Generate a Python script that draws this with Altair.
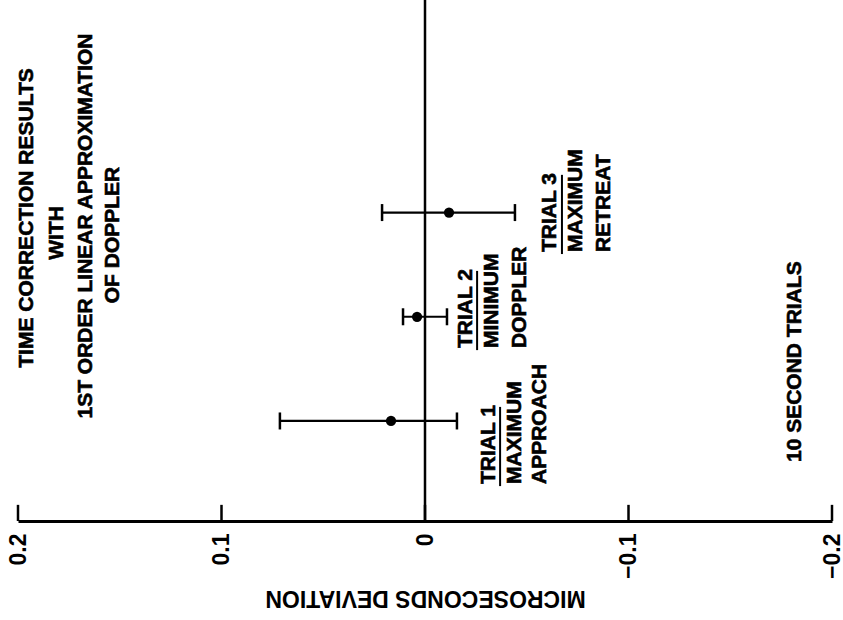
import altair as alt
import pandas as pd

# ---- data ----
trials = ["Trial 1", "Trial 2", "Trial 3"]
trial_pos = [0.96, 1.96, 2.96]
mean_dev = [0.0167, 0.0039, -0.0118]
upper_dev = [0.0713, 0.0108, 0.0211]
lower_dev = [-0.0157, -0.0108, -0.0442]
tick_values = [0.2, 0.1, 0.0, -0.1, -0.2]
zero_line = [0.0]

title_lines = ["TIME CORRECTION RESULTS", "WITH", "1ST ORDER LINEAR APPROXIMATION", "OF DOPPLER"]
title_x = [0.1956, 0.1808, 0.1666, 0.1533]
title_y = [2.908, 2.764, 2.831, 2.745]

note_lines = ["TRIAL 1", "MAXIMUM", "APPROACH",
              "TRIAL 2", "MINIMUM", "DOPPLER",
              "TRIAL 3", "MAXIMUM", "RETREAT",
              "10 SECOND TRIALS"]
note_x = [-0.0314, -0.0442, -0.0565,
          -0.0201, -0.0329, -0.0467,
          -0.0614, -0.0742, -0.0880,
          -0.1818]
note_y = [0.355, 0.355, 0.355,
          1.660, 1.660, 1.660,
          2.582, 2.582, 2.582,
          0.566]

underline_x = [-0.0369, -0.0256, -0.0673]
underline_y = [0.335, 1.640, 2.562]
underline_y2 = [1.095, 2.400, 3.322]

tick_len = 0.155  # inward tick length in y units

FONT = "Liberation Sans"

xs = alt.Scale(domain=[-0.2, 0.2], reverse=True, nice=False, zero=False)
ys = alt.Scale(domain=[0, 5], nice=False, zero=False)

xaxis = alt.Axis(
    values=tick_values, format=".1~f", title="MICROSECONDS DEVIATION",
    grid=False, ticks=False, tickSize=0, domain=True, domainColor="black",
    domainWidth=3, labelAngle=270, labelAlign="right", labelBaseline="middle",
    labelPadding=12, labelFont=FONT, labelFontSize=23, labelFontWeight="bold",
    labelColor="black", titleFont=FONT, titleFontSize=23, titleFontWeight="bold",
    titleColor="black", titleAngle=180, titleAlign="center", titleBaseline="middle",
    titleX=407, titleY=76,
)

def X(field="x"):
    return alt.X(f"{field}:Q", scale=xs, axis=xaxis)

def Y(field="y"):
    return alt.Y(f"{field}:Q", scale=ys, axis=None)

bars = pd.DataFrame({"trial": trials, "y": trial_pos, "x": upper_dev, "x2": lower_dev})
pts = pd.DataFrame({"trial": trials, "y": trial_pos, "x": mean_dev})
caps = pd.DataFrame({"y": trial_pos + trial_pos, "x": upper_dev + lower_dev})
ticks = pd.DataFrame({"x": tick_values, "y": [0.0] * len(tick_values),
                      "y2": [tick_len] * len(tick_values)})
zero = pd.DataFrame({"x": zero_line})
titles = pd.DataFrame({"text": title_lines, "x": title_x, "y": title_y})
notes = pd.DataFrame({"text": note_lines, "x": note_x, "y": note_y})
unders = pd.DataFrame({"x": underline_x, "y": underline_y, "y2": underline_y2})

zero_layer = alt.Chart(zero).mark_rule(color="black", strokeWidth=2.5).encode(x=X())
tick_layer = alt.Chart(ticks).mark_rule(color="black", strokeWidth=2.5).encode(
    x=X(), y=Y(), y2="y2:Q")
bar_layer = alt.Chart(bars).mark_rule(color="black", strokeWidth=2.2).encode(
    x=X(), x2="x2:Q", y=Y())
cap_layer = alt.Chart(caps).mark_tick(color="black", orient="vertical", size=17,
                                       thickness=2.5, opacity=1).encode(x=X(), y=Y())
pt_layer = alt.Chart(pts).mark_circle(color="black", size=105, opacity=1).encode(
    x=X(), y=Y())
title_layer = alt.Chart(titles).mark_text(
    angle=270, align="center", baseline="middle", font=FONT, fontSize=21,
    fontWeight="bold", color="black", stroke="black", strokeWidth=0.6).encode(
    x=X(), y=Y(), text="text:N")
note_layer = alt.Chart(notes).mark_text(
    angle=270, align="left", baseline="middle", font=FONT, fontSize=21,
    fontWeight="bold", color="black", stroke="black", strokeWidth=0.6).encode(
    x=X(), y=Y(), text="text:N")
under_layer = alt.Chart(unders).mark_rule(color="black", strokeWidth=2).encode(
    x=X(), y=Y(), y2="y2:Q")

chart = alt.layer(
    zero_layer, tick_layer, bar_layer, cap_layer, pt_layer,
    title_layer, note_layer, under_layer,
).properties(
    width=814, height=521,
    autosize=alt.AutoSizeParams(type="none"),
    padding={"left": 18, "top": 0, "right": 11, "bottom": 99},
    background="white",
).configure_view(strokeWidth=0)

chart.save("out.html", embed_options={"renderer": "svg", "actions": False})
